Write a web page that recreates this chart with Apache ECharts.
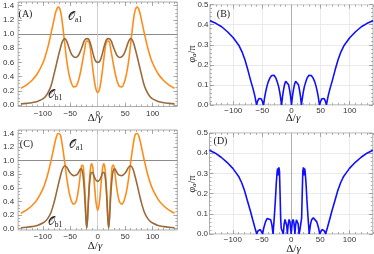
<!DOCTYPE html>
<html><head><meta charset="utf-8">
<script src="https://cdn.jsdelivr.net/npm/echarts@6/dist/echarts.min.js"></script>
<style>html,body{margin:0;padding:0;background:#fff}#c{width:374px;height:254px}</style>
</head><body><div id="c"></div>
<script>
// ---------- tick labels ----------
const xTickValues = [-100, -50, 0, 50, 100];
const yTicksAC = [0, 0.2, 0.4, 0.6, 0.8, 1.0, 1.2, 1.4];
const yTicksBD = [0, 0.1, 0.2, 0.3, 0.4, 0.5];
const refLevelAC = 1.0;

// ---------- panel A ----------
const xA = [-140,-130,-120,-110,-100,-95,-90,-85,-80,-76,-72,-68,-64,-60,-56,-52,-48,-44,-40,-36,-32,-28,-24,-20,-16,-12,-8,-4,0,
            4,8,12,16,20,24,28,32,36,40,44,48,52,56,60,64,68,72,76,80,85,90,95,100,110,120,130,140];
const orangeA = [0.235,0.28,0.345,0.44,0.59,0.70,0.84,1.01,1.19,1.32,1.38,1.33,1.13,0.86,0.60,0.42,0.31,0.255,0.26,0.32,0.44,0.60,0.77,0.90,0.89,0.70,0.45,0.25,0.175,
                 0.25,0.45,0.70,0.89,0.90,0.77,0.60,0.44,0.32,0.26,0.255,0.31,0.42,0.60,0.86,1.13,1.33,1.38,1.32,1.19,1.01,0.84,0.70,0.59,0.44,0.345,0.28,0.235];
const brownA = [0.015,0.022,0.032,0.05,0.085,0.12,0.18,0.27,0.42,0.55,0.68,0.80,0.90,0.935,0.89,0.80,0.72,0.68,0.67,0.69,0.75,0.83,0.91,0.935,0.92,0.83,0.71,0.62,0.60,
                0.62,0.71,0.83,0.92,0.935,0.91,0.83,0.75,0.69,0.67,0.68,0.72,0.80,0.89,0.935,0.90,0.80,0.68,0.55,0.42,0.27,0.18,0.12,0.085,0.05,0.032,0.022,0.015];

// ---------- panel B ----------
const xB = [-140,-130,-120,-110,-100,-95,-90,-85,-80,-75,-70,-66,-63,-60,-58,-56,-54,-52,-50,-48,-46,-44,-42,-40,-37,-34,-32,-30,-27,-24,-22,-20,-18.5,-17,-15.5,-14,-12,-10,-8.5,-7,-5,-3,-1.5,0,
            1.5,3,5,7,8.5,10,12,14,15.5,17,18.5,20,22,24,27,30,32,34,37,40,42,44,46,48,50,52,54,56,58,60,63,66,70,75,80,85,90,95,100,110,120,130,140];
const phiB = [0.42,0.407,0.39,0.365,0.335,0.315,0.295,0.265,0.225,0.175,0.12,0.08,0.045,0.0,0.02,0.032,0.035,0.03,0.017,0.0,0.04,0.07,0.095,0.115,0.135,0.147,0.15,0.148,0.135,0.11,0.09,0.06,0.03,0.0,0.04,0.07,0.1,0.118,0.122,0.118,0.1,0.07,0.04,0.0,
              0.04,0.07,0.1,0.118,0.122,0.118,0.1,0.07,0.04,0.0,0.03,0.06,0.09,0.11,0.135,0.148,0.15,0.147,0.135,0.115,0.095,0.07,0.04,0.0,0.017,0.03,0.035,0.032,0.02,0.0,0.045,0.08,0.12,0.175,0.225,0.265,0.295,0.315,0.335,0.365,0.39,0.407,0.42];

// ---------- panel C ----------
const xC = [-140,-130,-120,-110,-100,-95,-90,-85,-80,-76,-72,-68,-64,-60,-56,-52,-48,-44,-40,-37,-34,-31,-29,-27,-25,-23,-21.5,-20,-18.5,-17,-15,-13,-11,-9,-7,-5,-3,0,
            3,5,7,9,11,13,15,17,18.5,20,21.5,23,25,27,29,31,34,37,40,44,48,52,56,60,64,68,72,76,80,85,90,95,100,110,120,130,140];
const orangeC = [0.225,0.27,0.335,0.43,0.58,0.69,0.83,1.0,1.19,1.33,1.40,1.38,1.2,0.97,0.72,0.53,0.41,0.36,0.39,0.48,0.64,0.84,0.93,0.93,0.78,0.5,0.2,0.02,0.15,0.42,0.72,0.9,0.955,0.9,0.74,0.55,0.38,0.265,
                 0.38,0.55,0.74,0.9,0.955,0.9,0.72,0.42,0.15,0.02,0.2,0.5,0.78,0.93,0.93,0.84,0.64,0.48,0.39,0.36,0.41,0.53,0.72,0.97,1.2,1.38,1.40,1.33,1.19,1.0,0.83,0.69,0.58,0.43,0.335,0.27,0.225];
const brownC = [0.012,0.018,0.028,0.045,0.08,0.11,0.16,0.24,0.37,0.5,0.64,0.77,0.88,0.925,0.9,0.84,0.8,0.78,0.785,0.8,0.84,0.88,0.87,0.8,0.63,0.38,0.15,0.01,0.14,0.38,0.65,0.79,0.83,0.82,0.78,0.74,0.71,0.695,
                0.71,0.74,0.78,0.82,0.83,0.79,0.65,0.38,0.14,0.01,0.15,0.38,0.63,0.8,0.87,0.88,0.84,0.8,0.785,0.78,0.8,0.84,0.9,0.925,0.88,0.77,0.64,0.5,0.37,0.24,0.16,0.11,0.08,0.045,0.028,0.018,0.012];

// ---------- panel D ----------
const xD = [-140,-130,-120,-110,-100,-95,-90,-85,-80,-75,-70,-66,-62,-59,-57,-55,-53,-51,-49,-47,-44,-41,-38,-35,-33,-31,-29,-27,-25.5,-24,-23,-22,-21,-20,-19,-18,-17,-15,-13.5,-12,-10.5,-9,-7.5,-6.5,-5,-3.5,-2,-1,0,
            1,2,3.5,5,6.5,7.5,9,10.5,12,13.5,15,17,18,19,20,21,22,23,24,25.5,27,29,31,33,35,38,41,44,47,49,51,53,55,57,59,62,66,70,75,80,85,90,95,100,110,120,130,140];
const phiD = [0.415,0.4,0.38,0.355,0.325,0.305,0.285,0.255,0.215,0.165,0.115,0.072,0.03,0.0,0.015,0.023,0.022,0.012,0.0,0.03,0.06,0.077,0.08,0.07,0.045,0.0,0.08,0.17,0.25,0.31,0.325,0.29,0.33,0.31,0.2,0.08,0.028,0.02,0.0,0.05,0.072,0.07,0.04,0.0,0.05,0.072,0.06,0.03,0.0,
              0.03,0.06,0.072,0.05,0.0,0.04,0.07,0.072,0.05,0.0,0.02,0.028,0.08,0.2,0.31,0.33,0.29,0.325,0.31,0.25,0.17,0.08,0.0,0.045,0.07,0.08,0.077,0.06,0.03,0.0,0.012,0.022,0.023,0.015,0.0,0.03,0.072,0.115,0.165,0.215,0.255,0.285,0.305,0.325,0.355,0.38,0.4,0.415];

// ---------- styling helpers ----------
const TICKFONT = 'Liberation Sans, Arial, sans-serif';
const SERIF = 'Liberation Serif, Times New Roman, serif';
const ORANGE = '#ff8c1a', BROWN = '#9a6a3c', BLUE = '#1010ff';
const FRAME = '#9a9a9a';

function range(a, b, s) { const r = []; for (let v = a; v <= b + 1e-9; v += s) r.push(+v.toFixed(4)); return r; }
const fmtX = v => v < 0 ? '\u2212' + Math.abs(v) : String(v);
const fmtY = v => Number(v).toFixed(1);

const panels = [
  { grid: {left: 12.7, top: 2, width: 164.6, height: 104.5}, xr: [-145, 145], yr: [-0.022, 1.452],
    yMajor: yTicksAC, yMinor: range(0, 1.45, 0.05), xmargin: 3, ymargin: 4, gridLines: false },
  { grid: {left: 210, top: 4.7, width: 163, height: 100.2}, xr: [-140, 140], yr: [0, 0.5],
    yMajor: yTicksBD, yMinor: range(0, 0.5, 0.02), xmargin: 2, ymargin: 1.5, gridLines: true },
  { grid: {left: 12.7, top: 130, width: 164.6, height: 100}, xr: [-145, 145], yr: [-0.022, 1.452],
    yMajor: yTicksAC, yMinor: range(0, 1.45, 0.05), xmargin: 3, ymargin: 4, gridLines: false },
  { grid: {left: 209.5, top: 133, width: 163.3, height: 101}, xr: [-140, 140], yr: [0, 0.5],
    yMajor: yTicksBD, yMinor: range(0, 0.5, 0.02), xmargin: 2, ymargin: 1.5, gridLines: true }
];
const xMinor = range(-140, 140, 10);

const grid = [], xAxis = [], yAxis = [];
panels.forEach((p, g) => {
  grid.push(Object.assign({show: true, borderColor: FRAME, borderWidth: 0.8, backgroundColor: 'transparent'}, p.grid));
  const base = (min, max) => ({type: 'value', gridIndex: g, min, max, axisLine: {show: false, onZero: false}, splitLine: {show: false},
                               axisLabel: {show: false}, axisTick: {show: false}, silent: true});
  const tick = (vals, len) => ({show: true, inside: true, length: len, customValues: vals, lineStyle: {color: FRAME, width: 0.8}});
  ['bottom', 'top'].forEach((pos, k) => {
    const major = base(p.xr[0], p.xr[1]);
    major.position = pos; major.axisTick = tick(xTickValues, 4);
    if (k === 0) {
      major.axisLabel = {show: true, customValues: xTickValues, formatter: fmtX, margin: p.xmargin, fontSize: 8,
                         color: '#333', fontFamily: TICKFONT};
      if (p.gridLines) {
        major.interval = 10;
        major.splitLine = {show: true, lineStyle: {color: '#e4e4e4', width: 0.8}};
      }
    }
    const minor = base(p.xr[0], p.xr[1]);
    minor.position = pos; minor.axisTick = tick(xMinor, 2);
    xAxis.push(major, minor);
  });
  ['left', 'right'].forEach((pos, k) => {
    const major = base(p.yr[0], p.yr[1]);
    major.position = pos; major.axisTick = tick(p.yMajor, 4);
    if (k === 0) {
      major.axisLabel = {show: true, customValues: p.yMajor, formatter: fmtY, margin: p.ymargin, fontSize: 8,
                         color: '#333', fontFamily: TICKFONT};
      if (p.gridLines) {
        major.interval = 0.1;
        major.splitLine = {show: true, lineStyle: {color: '#e4e4e4', width: 0.8}};
      }
    }
    const minor = base(p.yr[0], p.yr[1]);
    minor.position = pos; minor.axisTick = tick(p.yMinor, 2);
    yAxis.push(major, minor);
  });
});

const zip = (xs, ys) => xs.map((x, i) => [x, ys[i]]);
function lineSeries(g, xs, ys, color, smooth, markData) {
  const s = {type: 'line', xAxisIndex: 4 * g, yAxisIndex: 4 * g, data: zip(xs, ys), symbol: 'none', showSymbol: false,
             smooth: smooth, lineStyle: {color: color, width: 1.6}, silent: true, clip: true, z: 3};
  if (markData) s.markLine = {symbol: ['none', 'none'], silent: true, label: {show: false}, animation: false, z: 2, data: markData};
  return s;
}
const refA = [{yAxis: refLevelAC, lineStyle: {color: '#8c8c8c', width: 1, type: 'solid'}},
              {xAxis: 0, lineStyle: {color: '#c4c4c4', width: 0.8, type: 'solid'}}];
const refB = [{xAxis: 0, lineStyle: {color: '#a8a8a8', width: 0.9, type: 'solid'}}];

const series = [
  lineSeries(0, xA, orangeA, ORANGE, 0.4, refA),
  lineSeries(0, xA, brownA, BROWN, 0.4),
  lineSeries(1, xB, phiB, BLUE, false, refB),
  lineSeries(2, xC, orangeC, ORANGE, 0.35, refA),
  lineSeries(2, xC, brownC, BROWN, 0.35),
  lineSeries(3, xD, phiD, BLUE, false, refB)
];

function label(x, y, text) {
  return {type: 'text', x: x, y: y, silent: true, z: 10,
          style: {text: text, font: '10px ' + SERIF, fill: '#222', textAlign: 'center', textVerticalAlign: 'middle'}};
}
function txt(x, y, text, rich, extra) {
  return Object.assign({type: 'text', x: x, y: y, silent: true, z: 10,
    style: {text: text, rich: rich, textAlign: 'center', textVerticalAlign: 'middle', fill: '#222',
            font: '10px ' + SERIF}}, extra || {});
}
const richDelta = {u: {fontFamily: SERIF, fontSize: 11, color: '#333'}, i: {fontFamily: SERIF, fontSize: 11, fontStyle: 'italic', color: '#333'}};
const richPhi = {i: {fontFamily: SERIF, fontSize: 10, fontStyle: 'italic', color: '#333'},
                 s: {fontFamily: SERIF, fontSize: 7, fontStyle: 'italic', color: '#333', padding: [5, 0, 0, 0]},
                 u: {fontFamily: SERIF, fontSize: 10, color: '#333'}};
const richO = {o: {fontFamily: 'DejaVu Serif, ' + SERIF, fontSize: 11, color: '#222'},
               s: {fontFamily: SERIF, fontSize: 8, color: '#222', padding: [6, 0, 0, 0]}};

const graphic = [
  label(25.5, 14.5, '(A)'),
  label(223.5, 14, '(B)'),
  label(26.5, 144, '(C)'),
  label(220.5, 141, '(D)'),
  txt(95, 118, '{u|Δ/}{i|γ}', richDelta),
  txt(293, 118.5, '{u|Δ/}{i|γ}', richDelta),
  txt(95, 246, '{u|Δ/}{i|γ}', richDelta),
  txt(293.5, 249, '{u|Δ/}{i|γ}', richDelta),
  txt(192, 54, '{i|φ}{s|a}{u|/π}', richPhi, {rotation: Math.PI / 2}),
  txt(192, 184, '{i|φ}{s|a}{u|/π}', richPhi, {rotation: Math.PI / 2}),
  txt(75, 17, '{o|𝒪}{s|a1}', richO),
  txt(55, 95, '{o|𝒪}{s|b1}', richO),
  txt(76, 145, '{o|𝒪}{s|a1}', richO),
  txt(55, 222, '{o|𝒪}{s|b1}', richO)
];

const chart = echarts.init(document.getElementById('c'), null, {renderer: 'canvas'});
chart.setOption({animation: false, backgroundColor: '#fff', grid, xAxis, yAxis, series, graphic});
</script>
</body></html>
